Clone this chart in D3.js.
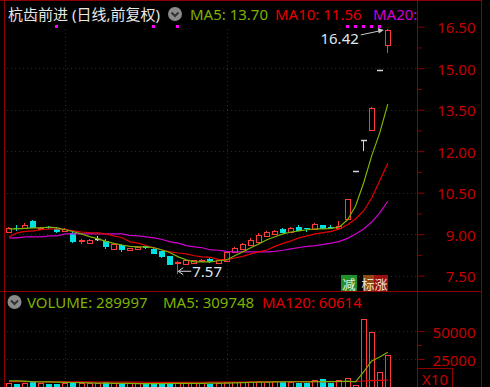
<!DOCTYPE html>
<html><head><meta charset="utf-8">
<script src="https://cdn.jsdelivr.net/npm/d3@7"></script>
<style>
html,body{margin:0;padding:0;background:#000;overflow:hidden}
svg{display:block}
text{font-family:"Noto Sans","Noto Sans CJK SC",sans-serif}
</style></head><body>
<svg id="c" width="490" height="387"></svg>
<script>
// ---------- data ----------
const opens  = [9.08,9.23,9.23,9.48,9.20,9.27,9.18,9.10,9.05,8.78,8.68,8.83,8.77,8.47,8.62,8.42,8.46,8.56,8.47,8.38,8.20,7.96,7.93,7.95,8.02,8.10,7.96,8.04,8.36,8.47,8.61,8.73,8.94,9.00,9.19,9.08,9.27,9.21,9.20,9.33,9.27,9.21,9.55,11.29,12.42,12.77,14.93,15.84];
const highs  = [9.27,9.34,9.41,9.50,9.27,9.29,9.25,9.22,9.10,8.82,8.82,8.92,8.82,8.67,8.65,8.50,8.57,8.58,8.50,8.40,8.22,8.02,8.09,8.08,8.10,8.17,8.07,8.37,8.52,8.67,8.88,9.05,9.10,9.14,9.21,9.25,9.34,9.22,9.39,9.35,9.33,9.48,10.27,11.29,12.42,13.60,14.93,16.42];
const lows   = [9.05,9.12,9.22,9.21,9.18,9.20,9.05,9.08,8.70,8.65,8.66,8.76,8.48,8.45,8.37,8.40,8.44,8.48,8.27,8.15,7.87,7.57,7.91,7.93,8.00,7.95,7.94,8.02,8.34,8.45,8.60,8.72,8.92,8.98,9.03,9.06,9.10,9.08,9.18,9.17,9.19,9.18,9.50,11.29,12.00,12.75,14.93,15.55];
const closes = [9.23,9.19,9.34,9.23,9.24,9.23,9.09,9.19,8.73,8.80,8.80,8.83,8.55,8.65,8.44,8.49,8.55,8.50,8.30,8.18,7.90,8.00,8.07,8.07,8.06,7.98,8.05,8.36,8.50,8.65,8.80,8.98,9.09,9.12,9.05,9.23,9.12,9.19,9.37,9.19,9.21,9.28,10.27,11.29,12.42,13.56,14.93,16.38];
const ma5  = [9.19,9.19,9.21,9.23,9.23,9.26,9.23,9.16,9.09,9.01,8.91,8.84,8.74,8.67,8.61,8.56,8.54,8.54,8.51,8.43,8.33,8.18,8.07,8.00,8.00,8.00,8.04,8.07,8.22,8.36,8.51,8.65,8.80,8.91,9.01,9.08,9.12,9.16,9.19,9.19,9.21,9.26,9.52,10.02,10.85,11.83,12.66,13.70];
const ma10 = [8.90,9.05,9.10,9.12,9.16,9.19,9.19,9.17,9.12,9.08,9.06,9.05,9.01,8.94,8.88,8.72,8.68,8.59,8.51,8.43,8.36,8.32,8.29,8.22,8.18,8.16,8.09,8.07,8.14,8.20,8.29,8.36,8.43,8.56,8.67,8.76,8.87,8.94,9.01,9.06,9.10,9.19,9.34,9.55,9.84,10.31,10.93,11.56];
const ma20 = [8.87,8.87,8.90,8.90,8.90,8.94,8.94,9.01,9.01,9.01,9.01,9.01,9.01,9.01,9.01,8.96,8.94,8.90,8.87,8.81,8.72,8.68,8.59,8.54,8.51,8.43,8.42,8.38,8.36,8.36,8.36,8.36,8.36,8.38,8.42,8.47,8.52,8.56,8.59,8.63,8.68,8.74,8.85,9.01,9.19,9.44,9.77,10.19];
const volumes = [3600,2400,3600,5600,3600,2400,2400,3600,4700,3300,3300,3300,4700,3300,2400,3300,3300,3000,3300,3300,3300,3300,3600,3600,3600,2400,3600,4200,4200,4700,4700,5400,4200,5400,4700,4200,3600,3600,6250,6900,3800,6250,8100,1900,61000,49000,13400,29000];
const volMa5 = [5400,5400,5200,4700,4600,4500,4400,4200,4000,3900,3700,3500,3400,3300,3200,3200,3100,3100,3100,3100,3200,3200,3300,3300,3300,3400,3400,3500,3700,3900,4100,4300,4400,4600,4700,4700,4700,4600,4700,4800,4800,4900,5200,4600,13400,23200,26800,30975];
const volMa120 = [4800,4800,4750,4700,4700,4650,4600,4600,4550,4500,4500,4450,4400,4400,4350,4300,4300,4250,4200,4200,4200,4200,4200,4250,4250,4300,4300,4350,4400,4450,4500,4550,4600,4650,4700,4700,4750,4750,4800,4800,4850,4850,4900,4900,5380,5760,5840,6061];
const priceTicks = [7.5,9,10.5,12,13.5,15,16.5];
const priceLabels = ["7.50","9.00","10.50","12.00","13.50","15.00","16.50"];
const volTicks = [25000,50000];
const volLabels = ["25000","50000"];
const markerIdx = [6,18,21,42,43,44,45,46];
const gridIdx = [7,27];
const title = "杭齿前进 (日线,前复权)";
const headItems = [["MA5: 13.70","ma5"],["MA10: 11.56","ma10"],["MA20:","ma20"]];
const volItems = [["VOLUME: 289997","ma5"],["MA5: 309748","ma5"],["MA120: 60614","ma10"]];
const hiLabel = "16.42", loLabel = "7.57";

// ---------- styling ----------
const C = {frame:"#8c0000", grid:"#8a0000", label:"#c40000", up:"#ff3b3b", down:"#00e2e2", flat:"#cfd6dc",
  ma5:"#7fb200", ma10:"#e40000", ma20:"#d000d0", txt:"#e8e8e8", marker:"#ff00ff"};
const axisX = 417, leftX = 4, rightX = 481, sepY = 291.5;

const svg = d3.select("#c");
svg.append("rect").attr("width",490).attr("height",387).attr("fill","#000");

const n = opens.length;
const x = d3.scalePoint().domain(d3.range(n)).range([9, 387.8]);
const y = d3.scaleLinear().domain([7.5, 16.5]).range([275.7, 26.7]);
const yv = d3.scaleLinear().domain([0, 50000]).range([387, 331]);

const defs = svg.append("defs");
defs.append("clipPath").attr("id","cp").append("rect").attr("x",leftX+1).attr("y",22).attr("width",axisX-leftX-1).attr("height",sepY-22);
defs.append("clipPath").attr("id","cv").append("rect").attr("x",leftX+1).attr("y",sepY+1).attr("width",axisX-leftX-1).attr("height",387-sepY);
defs.append("clipPath").attr("id","ch").append("rect").attr("x",0).attr("y",0).attr("width",axisX).attr("height",30);

// ---------- grid ----------
const grid = svg.append("g").attr("stroke",C.grid).attr("stroke-dasharray","1,3").attr("stroke-width",1);
grid.selectAll(".hg").data(priceTicks.filter(t=>t<16.5)).join("line")
  .attr("x1",leftX+3).attr("x2",axisX).attr("y1",d=>Math.round(y(d))+0.5).attr("y2",d=>Math.round(y(d))+0.5);
grid.selectAll(".vg").data(gridIdx).join("line")
  .attr("x1",d=>Math.round(x(d))+0.5).attr("x2",d=>Math.round(x(d))+0.5).attr("y1",29).attr("y2",sepY);
grid.selectAll(".hv").data(volTicks).join("line").attr("class","hv")
  .attr("x1",leftX+3).attr("x2",axisX).attr("y1",d=>Math.round(yv(d))+0.5).attr("y2",d=>Math.round(yv(d))+0.5);
grid.selectAll(".vv").data(gridIdx).join("line").attr("class","vv")
  .attr("x1",d=>Math.round(x(d))+0.5).attr("x2",d=>Math.round(x(d))+0.5).attr("y1",318).attr("y2",387);

// ---------- frame ----------
const fr = svg.append("g").attr("stroke",C.frame).attr("stroke-width",1);
fr.append("line").attr("x1",leftX+0.5).attr("x2",leftX+0.5).attr("y1",0).attr("y2",387);
fr.append("line").attr("x1",axisX+0.5).attr("x2",axisX+0.5).attr("y1",0).attr("y2",387);
fr.append("line").attr("x1",rightX+0.5).attr("x2",rightX+0.5).attr("y1",0).attr("y2",387);
fr.append("line").attr("x1",0).attr("x2",rightX).attr("y1",0.5).attr("y2",0.5);
fr.append("line").attr("x1",0).attr("x2",rightX).attr("y1",sepY).attr("y2",sepY);

// ---------- price panel ----------
const pp = svg.append("g").attr("clip-path","url(#cp)");
const cdl = d3.range(n).map(i=>({i,o:opens[i],h:highs[i],l:lows[i],c:closes[i]}));
const colOf = d => d.c>d.o ? C.up : d.c<d.o ? C.down : C.flat;
cdl.forEach(d=>{
  const cx = Math.round(x(d.i));
  const col = colOf(d);
  const top = Math.round(y(Math.max(d.o,d.c))), bot = Math.round(y(Math.min(d.o,d.c)));
  const yh = Math.round(y(d.h)), yl = Math.round(y(d.l));
  const g = pp.append("g");
  if (d.c>d.o) {
    if (yh<top) g.append("line").attr("x1",cx-0.5).attr("x2",cx-0.5).attr("y1",yh).attr("y2",top).attr("stroke",col);
    if (yl>bot) g.append("line").attr("x1",cx-0.5).attr("x2",cx-0.5).attr("y1",bot+1).attr("y2",yl).attr("stroke",col);
    g.append("rect").attr("x",cx-2.5).attr("y",top+0.5).attr("width",5).attr("height",Math.max(bot-top,1))
      .attr("fill","none").attr("stroke",col);
  } else if (d.c<d.o) {
    g.append("line").attr("x1",cx-0.5).attr("x2",cx-0.5).attr("y1",yh).attr("y2",yl).attr("stroke",col);
    g.append("rect").attr("x",cx-3).attr("y",top).attr("width",6).attr("height",Math.max(bot-top,1)).attr("fill",col);
  } else {
    if (yl>yh) g.append("line").attr("x1",cx-0.5).attr("x2",cx-0.5).attr("y1",yh).attr("y2",yl).attr("stroke",col);
    g.append("line").attr("x1",cx-3).attr("x2",cx+3).attr("y1",top+0.5).attr("y2",top+0.5).attr("stroke",col).attr("stroke-width",1.5);
  }
});
const line = d3.line().x((d,i)=>x(i)).y(d=>y(d));
[[ma20,C.ma20],[ma10,C.ma10],[ma5,C.ma5]].forEach(([arr,col])=>{
  pp.append("path").datum(arr).attr("d",line).attr("fill","none").attr("stroke",col).attr("stroke-width",1.2);
});

// markers
svg.append("g").selectAll("rect").data(markerIdx).join("rect")
  .attr("x",d=>Math.round(x(d))-2).attr("y",25).attr("width",3).attr("height",3).attr("fill",C.marker);

// high / low annotations
const ia = svg.append("g");
const hx = x(n-1), hy = y(highs[n-1]);
ia.append("line").attr("x1",hx-27).attr("y1",hy+6).attr("x2",hx-6).attr("y2",hy+1.5).attr("stroke","#c8c8c8").attr("stroke-width",1);
ia.append("path").attr("d",`M${hx-4},${hy+1} L${hx-10},${hy-1} L${hx-9},${hy+4.5} Z`).attr("fill","#c8c8c8");
ia.append("text").attr("x",hx-29).attr("y",hy+9).attr("text-anchor","end").attr("dominant-baseline","central")
  .attr("font-size",15).attr("fill","#dfe8f0").text(hiLabel);
const li = lows.indexOf(d3.min(lows));
const lx = x(li), ly = y(lows[li]) - 3;
ia.append("line").attr("x1",lx+1).attr("x2",lx+13).attr("y1",ly+0.5).attr("y2",ly+0.5).attr("stroke","#e0e0e0");
ia.append("path").attr("d",`M${lx},${ly+0.5} L${lx+5},${ly-3} M${lx},${ly+0.5} L${lx+5},${ly+4}`).attr("stroke","#e0e0e0").attr("fill","none");
ia.append("text").attr("x",lx+14).attr("y",ly).attr("dominant-baseline","central")
  .attr("font-size",15).attr("fill","#dfe8f0").text(loLabel);

// badges
const bd = svg.append("g").attr("font-size",13).attr("font-family","Noto Sans CJK SC");
bd.append("rect").attr("x",341).attr("y",275).attr("width",16).attr("height",16).attr("fill","#1f8f2a");
bd.append("text").attr("x",349).attr("y",283.5).attr("text-anchor","middle").attr("dominant-baseline","central").attr("fill","#e8f0e8").text("减");
bd.append("rect").attr("x",363).attr("y",275).attr("width",11).attr("height",16).attr("fill","#8e4a12");
bd.append("rect").attr("x",374).attr("y",275).attr("width",14).attr("height",16).attr("fill","#9a0f0f");
bd.append("text").attr("x",368).attr("y",283.5).attr("text-anchor","middle").attr("dominant-baseline","central").attr("fill","#f0e0d0").text("标");
bd.append("text").attr("x",381).attr("y",283.5).attr("text-anchor","middle").attr("dominant-baseline","central").attr("fill","#f0e0e0").text("涨");

// ---------- volume panel ----------
const vp = svg.append("g").attr("clip-path","url(#cv)");
volumes.forEach((v,i)=>{
  const cx = Math.round(x(i));
  const d = cdl[i];
  const up = d.c>=d.o;
  const top = Math.round(yv(v));
  if (up) vp.append("rect").attr("x",cx-2.5).attr("y",top+0.5).attr("width",5).attr("height",392-top).attr("fill","none").attr("stroke",C.up);
  else vp.append("rect").attr("x",cx-3).attr("y",top).attr("width",6).attr("height",392-top).attr("fill",C.down);
});
const vline = d3.line().x((d,i)=>x(i)).y(d=>yv(d));
vp.append("path").datum(volMa120).attr("d",vline).attr("fill","none").attr("stroke",C.ma10).attr("stroke-width",1.2);
vp.append("path").datum(volMa5).attr("d",vline).attr("fill","none").attr("stroke",C.ma5).attr("stroke-width",1.2);

// ---------- axes ----------
const ax = svg.append("g").attr("transform",`translate(${axisX+0.5},0)`)
  .call(d3.axisRight(y).tickValues(priceTicks).tickSize(7).tickFormat((d,i)=>priceLabels[i]));
const minor = svg.append("g").attr("transform",`translate(${axisX+0.5},0)`)
  .call(d3.axisRight(y).tickValues(priceTicks.slice(0,-1).map((t,i)=>(t+priceTicks[i+1])/2)).tickSize(4).tickFormat(""));
const vax = svg.append("g").attr("transform",`translate(${axisX+0.5},0)`)
  .call(d3.axisRight(yv).tickValues(volTicks).tickSize(7).tickFormat((d,i)=>volLabels[i]));
const vminor = svg.append("g").attr("transform",`translate(${axisX+0.5},0)`)
  .call(d3.axisRight(yv).tickValues([37500]).tickSize(4).tickFormat(""));
[ax,minor,vax,vminor].forEach(g=>{
  g.select(".domain").remove();
  g.selectAll(".tick line").attr("stroke",C.frame);
  g.selectAll(".tick text").attr("x",58).attr("text-anchor","end").attr("dy",null).attr("dominant-baseline","central")
    .attr("fill",C.label).attr("font-size",15).attr("font-family","Noto Sans");
});

// X10 box
svg.append("rect").attr("x",axisX+0.5).attr("y",368.5).attr("width",35).attr("height",25).attr("fill","none").attr("stroke",C.frame);
svg.append("text").attr("x",435).attr("y",378.5).attr("text-anchor","middle").attr("dominant-baseline","central")
  .attr("fill",C.label).attr("font-size",15).text("X10");

// ---------- headers ----------
function icon(cx,cy){
  const g = svg.append("g");
  g.append("circle").attr("cx",cx).attr("cy",cy).attr("r",7).attr("fill","#8a8a8a");
  g.append("path").attr("d",`M${cx-3.5},${cy-1.5} L${cx},${cy+2} L${cx+3.5},${cy-1.5}`).attr("fill","none").attr("stroke","#333").attr("stroke-width",2);
}
const hd = svg.append("g").attr("clip-path","url(#ch)").attr("font-size",15);
hd.append("text").attr("x",8).attr("y",14).attr("dominant-baseline","central").attr("fill",C.txt)
  .attr("font-family","Noto Sans CJK SC").text(title);
icon(175,14);
const hx0 = [190,275,373];
headItems.forEach(([t,k],i)=>hd.append("text").attr("x",hx0[i]).attr("y",14).attr("dominant-baseline","central").attr("fill",C[k]).text(t));
icon(14.5,302);
const vx0 = [27,163,262];
volItems.forEach(([t,k],i)=>svg.append("text").attr("x",vx0[i]).attr("y",302).attr("dominant-baseline","central").attr("font-size",15).attr("fill",C[k]).text(t));
</script>
</body></html>
